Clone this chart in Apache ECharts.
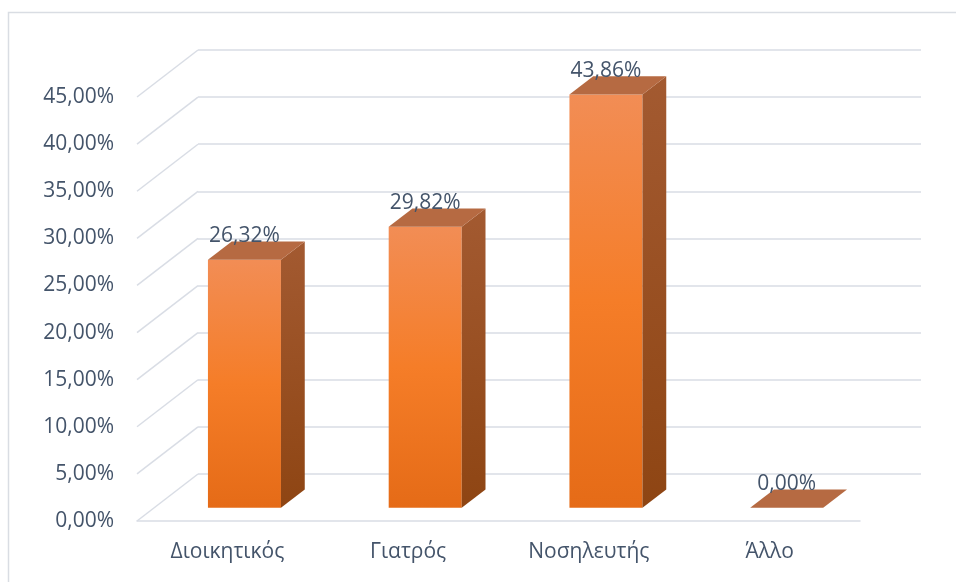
<!DOCTYPE html>
<html>
<head>
<meta charset="utf-8">
<script src="https://cdn.jsdelivr.net/npm/echarts@6/dist/echarts.min.js"></script>
<style>html,body{margin:0;padding:0;background:#fff;}#c{width:956px;height:582px;}</style>
</head>
<body>
<div id="c"></div>
<script>
const categories = ['Διοικητικός', 'Γιατρός', 'Νοσηλευτής', 'Άλλο'];
const values = [26.32, 29.82, 43.86, 0.00];
const yTicks = [0, 5, 10, 15, 20, 25, 30, 35, 40, 45];

// layout (front plane = grid 0, back wall = grid 1)
const FRONT = {left: 137, right: 96, top: 97, bottom: 61};
const BACK = {left: 198, right: 35, top: 50, bottom: 108};
const DX = BACK.left - FRONT.left;
const DY = BACK.top - FRONT.top;
const F0 = 0.28, F1 = 0.67, BAR_W = 0.404;
const FONT = 'Open Sans';
const TXT = '#44546A';
const GRID_C = '#d9dde5';

const fmt = v => v.toFixed(2).replace('.', ',') + '%';

const chart = echarts.init(document.getElementById('c'));

function lin(stops) {
  return new echarts.graphic.LinearGradient(0, 0, 0, 1, stops.map((c, i) => ({offset: i / (stops.length - 1), color: c})));
}

const option = {
  animation: false,
  backgroundColor: '#fff',
  graphic: [{
    type: 'rect', shape: {x: 8.5, y: 12.5, width: 1200, height: 1200},
    style: {fill: 'none', stroke: '#d9dde3', lineWidth: 1.5}, silent: true
  }],
  grid: [
    Object.assign({containLabel: false}, FRONT),
    Object.assign({containLabel: false}, BACK)
  ],
  xAxis: [
    {type: 'category', gridIndex: 0, data: categories,
     axisLine: {show: true, lineStyle: {color: GRID_C, width: 1.5}},
     axisTick: {show: false},
     axisLabel: {color: TXT, fontFamily: FONT, fontSize: 21, margin: 21}},
    {type: 'category', gridIndex: 1, data: categories, show: false}
  ],
  yAxis: [
    {type: 'value', gridIndex: 0, min: 0, max: 45, interval: 5,
     axisLine: {show: false}, axisTick: {show: false}, splitLine: {show: false},
     axisLabel: {color: TXT, fontFamily: FONT, fontSize: 21, margin: 23, formatter: fmt}},
    {type: 'value', gridIndex: 1, min: 0, max: 45, interval: 5,
     axisLine: {show: false}, axisTick: {show: false}, axisLabel: {show: false},
     splitLine: {show: true, lineStyle: {color: GRID_C, width: 1.5}}}
  ],
  series: [
    {
      type: 'custom', xAxisIndex: 0, yAxisIndex: 0, silent: true, z: 1,
      data: yTicks.map(t => [0, t]),
      renderItem: function (params, api) {
        const p = api.coord([0, api.value(1)]);
        const band = api.size([1, 0])[0];
        const x0 = p[0] - band / 2;
        return {type: 'line', shape: {x1: x0, y1: p[1], x2: x0 + DX, y2: p[1] + DY},
                style: {stroke: GRID_C, lineWidth: 1.5}};
      }
    },
    {
      type: 'custom', xAxisIndex: 0, yAxisIndex: 0, z: 5,
      data: values.map((v, i) => [i, v]),
      renderItem: function (params, api) {
        const i = api.value(0), v = api.value(1);
        const base = api.coord([i, 0]);
        const top = api.coord([i, v]);
        const band = api.size([1, 0])[0];
        const hw = band * BAR_W / 2;
        const cx = base[0];
        const ox0 = DX * F0, oy0 = DY * F0, ox1 = DX * F1, oy1 = DY * F1;
        const yb = base[1], yt = top[1];
        const children = [];
        if (yb - yt > 0.5) {
          children.push({type: 'polygon', shape: {points: [
            [cx - hw + ox0, yt + oy0], [cx + hw + ox0, yt + oy0], [cx + hw + ox0, yb + oy0], [cx - hw + ox0, yb + oy0]]},
            style: {fill: lin(['#F28D55', '#F57D28', '#E56B17'])}});
          children.push({type: 'polygon', shape: {points: [
            [cx + hw + ox0, yt + oy0], [cx + hw + ox1, yt + oy1], [cx + hw + ox1, yb + oy1], [cx + hw + ox0, yb + oy0]]},
            style: {fill: lin(['#A35A31', '#8E4513'])}});
        }
        children.push({type: 'polygon', shape: {points: [
          [cx - hw + ox0, yt + oy0], [cx - hw + ox1, yt + oy1], [cx + hw + ox1, yt + oy1], [cx + hw + ox0, yt + oy0]]},
          style: {fill: '#B66A42'}});
        children.push({type: 'text', style: {
          text: fmt(v), x: cx + ox0, y: yt + oy1 + 5, textAlign: 'center', textVerticalAlign: 'bottom',
          fill: TXT, font: '21px "' + FONT + '"'}, z2: 10});
        return {type: 'group', children: children};
      }
    }
  ]
};
chart.setOption(option);
</script>
</body>
</html>
